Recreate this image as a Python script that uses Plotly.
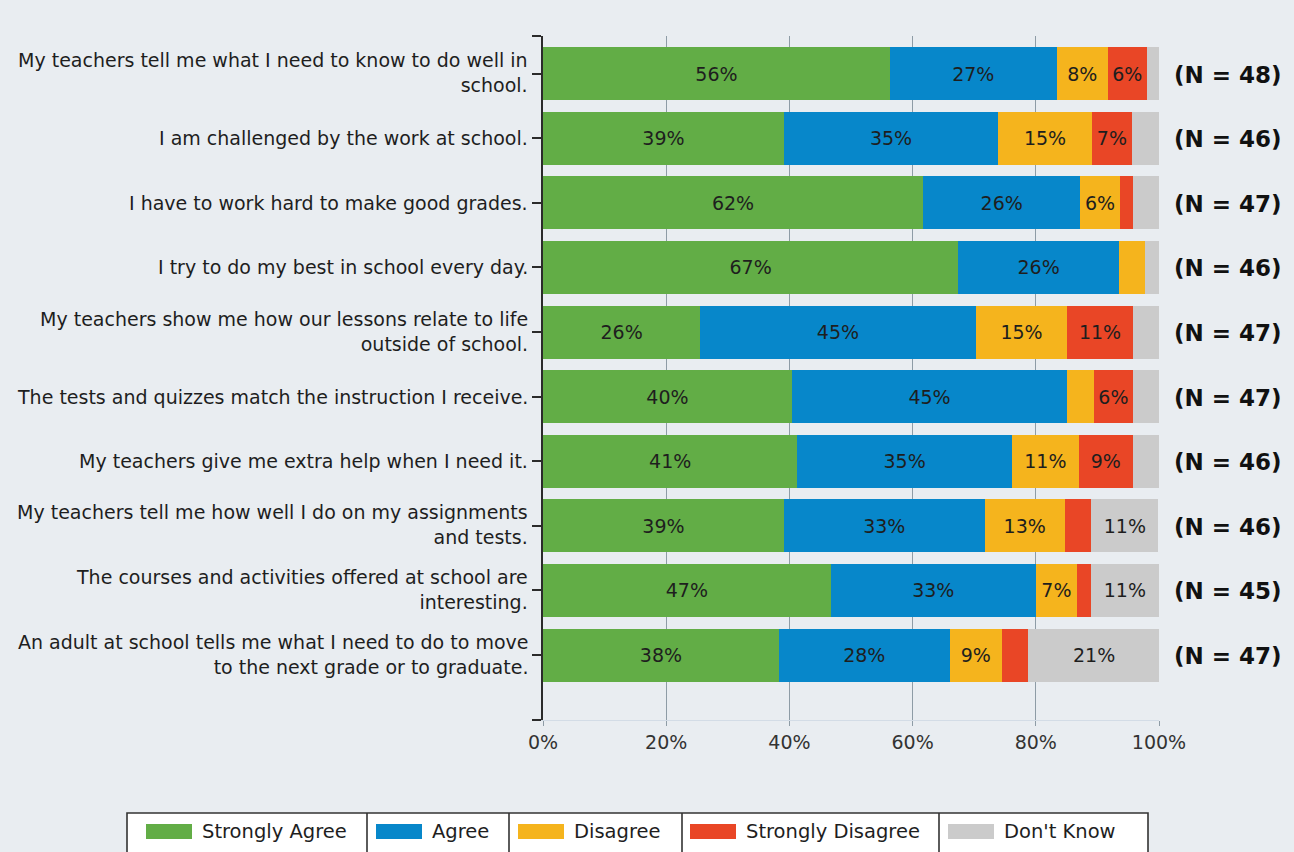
import plotly.graph_objects as go

# Survey items, top to bottom ("<br>" marks a line break in the label)
items = [
    "My teachers tell me what I need to know to do well in<br>school.",
    "I am challenged by the work at school.",
    "I have to work hard to make good grades.",
    "I try to do my best in school every day.",
    "My teachers show me how our lessons relate to life<br>outside of school.",
    "The tests and quizzes match the instruction I receive.",
    "My teachers give me extra help when I need it.",
    "My teachers tell me how well I do on my assignments<br>and tests.",
    "The courses and activities offered at school are<br>interesting.",
    "An adult at school tells me what I need to do to move<br>to the next grade or to graduate.",
]
respondents = [48, 46, 47, 46, 47, 47, 46, 46, 45, 47]

responses = ["Strongly Agree", "Agree", "Disagree", "Strongly Disagree", "Don't Know"]
colors = ["#62AD46", "#0787CA", "#F5B41D", "#E94626", "#CBCBCB"]

# Percent of respondents per item
strongly_agree = [56.3, 39.1, 61.7, 67.4, 25.53, 40.4, 41.3, 39.1, 46.7, 38.3]
agree = [27.1, 34.8, 25.53, 26.1, 44.7, 44.7, 34.8, 32.6, 33.3, 27.7]
disagree = [8.3, 15.2, 6.4, 4.3, 14.9, 4.3, 10.9, 13.0, 6.7, 8.51]
strongly_disagree = [6.3, 6.52, 2.1, 0.0, 10.6, 6.4, 8.7, 4.3, 2.2, 4.3]
dont_know = [2.1, 4.3, 4.3, 2.2, 4.3, 4.3, 4.3, 10.9, 11.1, 21.3]
series = [strongly_agree, agree, disagree, strongly_disagree, dont_know]

x_ticks = [0, 20, 40, 60, 80, 100]

FONT = "DejaVu Sans"
BG = "#E9EDF1"
INK = "#1E1E1E"

# Plot-area geometry in pixels
FIG_W, FIG_H = 1294, 852
L, R, T, B = 543, 135, 36, 132
PW, PH = FIG_W - L - R, FIG_H - T - B
Y_TOP, Y_BOTTOM = -0.584, 10.006


def paper_x(px):
    return (px - L) / PW


def paper_y(py):
    return (FIG_H - B - py) / PH


rows = list(range(len(items)))

fig = go.Figure()
for name, color, vals in zip(responses, colors, series):
    fig.add_trace(go.Bar(
        name=name,
        orientation="h",
        x=vals,
        y=rows,
        width=0.82,
        marker=dict(color=color, line=dict(width=0)),
        text=[f"{v:.0f}%" if v >= 5 else "" for v in vals],
        textposition="inside",
        insidetextanchor="middle",
        textangle=0,
        textfont=dict(family=FONT, size=19, color=INK),
        hoverinfo="skip",
        showlegend=False,
    ))

annotations = []

# Item labels, right aligned against the axis
for i, label in enumerate(items):
    two_lines = "<br>" in label
    annotations.append(dict(
        x=paper_x(530), xref="paper", xanchor="right", align="right",
        y=i, yref="y", yanchor="middle", yshift=1 if two_lines else 0,
        text=label, showarrow=False,
        font=dict(family=FONT, size=19, color=INK),
    ))

# Respondent counts to the right of each bar
for i, n in enumerate(respondents):
    annotations.append(dict(
        x=paper_x(1172), xref="paper", xanchor="left",
        y=i, yref="y", yanchor="middle", yshift=-1,
        text=f"<b>(N = {n})</b>", showarrow=False,
        font=dict(family=FONT, size=23, color="#111111"),
    ))

# Legend drawn as a boxed row of swatches and labels
shapes = []
box_top, box_bottom = 813, 853
shapes.append(dict(
    type="rect", xref="paper", yref="paper",
    x0=paper_x(127), x1=paper_x(1148), y0=paper_y(box_bottom), y1=paper_y(box_top),
    fillcolor="white", line=dict(color="#333333", width=1.6), layer="above",
))
for sx in [367, 509, 682, 939]:
    shapes.append(dict(
        type="line", xref="paper", yref="paper",
        x0=paper_x(sx), x1=paper_x(sx), y0=paper_y(box_bottom), y1=paper_y(box_top),
        line=dict(color="#333333", width=1.6), layer="above",
    ))
swatch_left = [146, 376, 518, 690, 948]
for sx, name, color in zip(swatch_left, responses, colors):
    shapes.append(dict(
        type="rect", xref="paper", yref="paper",
        x0=paper_x(sx), x1=paper_x(sx + 46), y0=paper_y(839), y1=paper_y(824),
        fillcolor=color, line=dict(width=0), layer="above",
    ))
    annotations.append(dict(
        x=paper_x(sx + 54), xref="paper", xanchor="left",
        y=paper_y(831.5), yref="paper", yanchor="middle",
        text=name, showarrow=False,
        font=dict(family=FONT, size=19.5, color=INK),
    ))

fig.update_layout(
    width=FIG_W, height=FIG_H,
    margin=dict(l=L, r=R, t=T, b=B, pad=0),
    paper_bgcolor=BG, plot_bgcolor=BG,
    barmode="stack",
    uniformtext=dict(minsize=19, mode="show"),
    font=dict(family=FONT, size=19, color=INK),
    annotations=annotations,
    shapes=shapes,
    showlegend=False,
)

fig.update_xaxes(
    range=[0, 100],
    tickvals=x_ticks,
    ticktext=[f"{t}%" for t in x_ticks],
    showgrid=True, gridcolor="#8E9CA6", gridwidth=1,
    zeroline=False,
    showline=True, linecolor="#D3DCE6", linewidth=1,
    ticks="outside", ticklen=5, tickcolor="#8E9CA6", tickwidth=1,
    tickfont=dict(family=FONT, size=19, color="#333333"),
    fixedrange=True,
)

fig.update_yaxes(
    range=[Y_BOTTOM, Y_TOP],
    tickvals=[Y_TOP] + rows + [Y_BOTTOM],
    showticklabels=False,
    showgrid=False, zeroline=False,
    showline=True, linecolor="#2B2B2B", linewidth=2,
    ticks="outside", ticklen=9, tickcolor="#2B2B2B", tickwidth=1.5,
    fixedrange=True,
)

fig.write_html("out.html")
